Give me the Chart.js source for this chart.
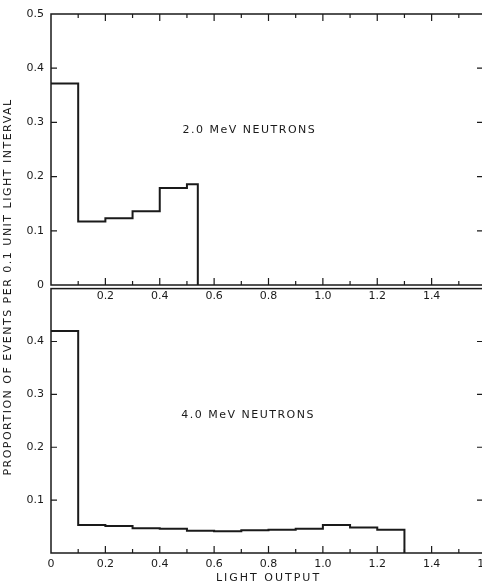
<!DOCTYPE html>
<html>
<head>
<meta charset="utf-8">
<script src="https://cdn.jsdelivr.net/npm/chart.js@4.4.1/dist/chart.umd.min.js"></script>
<style>
  html, body { margin: 0; padding: 0; background: #fff; overflow: hidden; width: 482px; height: 584px; }
  #wrap { position: relative; width: 482px; height: 584px; overflow: hidden; }
  #topPanel { position: absolute; left: 0; top: 0; }
  #bottomPanel { position: absolute; left: 0; top: 275px; }
  #ytitle {
    position: absolute; left: -192px; top: 280px; width: 400px; height: 14px;
    font: 11px "DejaVu Sans", sans-serif; letter-spacing: 1.5px; color: #1a1a1a;
    text-align: center; white-space: nowrap; line-height: 14px;
    transform: rotate(-90deg); transform-origin: 50% 50%;
  }
</style>
</head>
<body>
<div id="wrap">
  <canvas id="topPanel" width="500" height="305"></canvas>
  <canvas id="bottomPanel" width="500" height="309"></canvas>
  <div id="ytitle">PROPORTION OF EVENTS PER 0.1 UNIT LIGHT INTERVAL</div>
</div>
<script>
// light output bin edges and proportion per 0.1 unit interval
const edges2MeV = [0, 0.1, 0.2, 0.3, 0.4, 0.5, 0.54];
const values2MeV = [0.372, 0.117, 0.123, 0.136, 0.179, 0.186];

const edges4MeV = [0, 0.1, 0.2, 0.3, 0.4, 0.5, 0.6, 0.7, 0.8, 0.9, 1.0, 1.1, 1.2, 1.3];
const values4MeV = [0.42, 0.053, 0.051, 0.047, 0.046, 0.042, 0.041, 0.043, 0.044, 0.046, 0.053, 0.048, 0.044];

const xTickValues = [0, 0.2, 0.4, 0.6, 0.8, 1.0, 1.2, 1.4, 1.6];
const xMinorTicks = [0.1, 0.2, 0.3, 0.4, 0.5, 0.6, 0.7, 0.8, 0.9, 1.0, 1.1, 1.2, 1.3, 1.4, 1.5];
const yTickValues = [0, 0.1, 0.2, 0.3, 0.4, 0.5];

const INK = '#1a1a1a';
const FONT = '"DejaVu Sans", sans-serif';

function histPoints(edges, values) {
  return edges.map((x, i) => ({ x: x, y: i < values.length ? values[i] : 0 }));
}

// frame, inward tick marks and free text
const decor = {
  id: 'decor',
  afterDraw(chart, args, opts) {
    const ctx = chart.ctx;
    const a = chart.chartArea;
    const xs = chart.scales.x, ys = chart.scales.y;
    ctx.save();
    ctx.strokeStyle = INK;
    ctx.lineWidth = 1.5;
    ctx.strokeRect(a.left, a.top, a.right - a.left, a.bottom - a.top);
    ctx.lineWidth = 1.2;
    ctx.beginPath();
    xMinorTicks.forEach(v => {
      const px = xs.getPixelForValue(v);
      const major = Math.abs(v * 5 - Math.round(v * 5)) < 1e-6;
      const len = major ? 7 : 4;
      ctx.moveTo(px, a.bottom); ctx.lineTo(px, a.bottom - len);
      if (opts.topTicks) { ctx.moveTo(px, a.top); ctx.lineTo(px, a.top + len); }
    });
    yTickValues.slice(1, 5).forEach(v => {
      const py = ys.getPixelForValue(v);
      ctx.moveTo(a.left, py); ctx.lineTo(a.left + 6, py);
      ctx.moveTo(a.right, py); ctx.lineTo(a.right - 9, py);
    });
    ctx.stroke();

    ctx.fillStyle = INK;
    ctx.font = '11px ' + FONT;
    ctx.letterSpacing = '1.5px';
    ctx.textAlign = 'center';
    ctx.textBaseline = 'middle';
    ctx.fillText(opts.label, xs.getPixelForValue(opts.labelX), ys.getPixelForValue(opts.labelY));
    if (opts.xTitle) {
      ctx.letterSpacing = '2px';
      ctx.fillText(opts.xTitle, (a.left + a.right) / 2, a.bottom + 25);
    }
    ctx.restore();
  }
};

function makePanel(canvasId, edges, values, cfg) {
  return new Chart(document.getElementById(canvasId), {
    type: 'line',
    data: {
      datasets: [{
        data: histPoints(edges, values),
        stepped: true,
        borderColor: INK,
        borderWidth: 2,
        pointRadius: 0,
        fill: false
      }]
    },
    options: {
      responsive: false,
      animation: false,
      layout: { padding: { top: cfg.padTop, right: 14, left: 0, bottom: 0 } },
      plugins: {
        legend: { display: false },
        tooltip: { enabled: false },
        decor: cfg.decor
      },
      scales: {
        x: {
          type: 'linear',
          min: 0,
          max: 1.6,
          grid: { display: false, drawTicks: false },
          border: { display: false },
          afterBuildTicks: s => { s.ticks = xTickValues.map(v => ({ value: v })); },
          afterFit: s => { s.height = cfg.xHeight; },
          ticks: {
            padding: 5,
            color: INK,
            font: { family: FONT, size: 11 },
            maxRotation: 0,
            autoSkip: false,
            callback: v => cfg.xLabel(v)
          }
        },
        y: {
          min: 0,
          max: 0.5,
          grid: { display: false, drawTicks: false },
          border: { display: false },
          afterBuildTicks: s => { s.ticks = yTickValues.map(v => ({ value: v })); },
          afterFit: s => { s.width = 51; },
          ticks: {
            padding: 7,
            color: INK,
            font: { family: FONT, size: 11 },
            callback: v => cfg.yLabel(v)
          }
        }
      }
    },
    plugins: [decor]
  });
}

const fmt = v => (Math.abs(v) < 1e-9 ? '0' : v.toFixed(1));

makePanel('topPanel', edges2MeV, values2MeV, {
  padTop: 14,
  xHeight: 20,
  xLabel: v => (v < 0.01 || v > 1.55 ? '' : fmt(v)),
  yLabel: v => fmt(v),
  decor: { label: '2.0 MeV NEUTRONS', labelX: 0.73, labelY: 0.286, topTicks: true }
});

makePanel('bottomPanel', edges4MeV, values4MeV, {
  padTop: 10,
  xHeight: 31,
  xLabel: v => fmt(v),
  yLabel: v => (v < 0.01 || v > 0.45 ? '' : fmt(v)),
  decor: { label: '4.0 MeV NEUTRONS', labelX: 0.725, labelY: 0.261, topTicks: false, xTitle: 'LIGHT OUTPUT' }
});
</script>
</body>
</html>
